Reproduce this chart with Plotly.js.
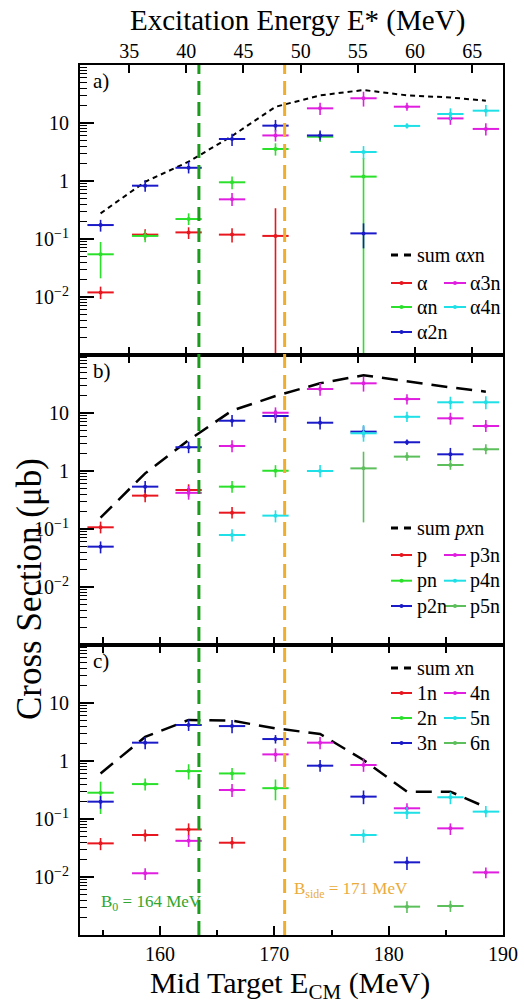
<!DOCTYPE html>
<html><head><meta charset="utf-8">
<script src="https://cdn.plot.ly/plotly-3.0.1.min.js"></script>
<style>html,body{margin:0;padding:0;background:#fff}#chart{width:524px;height:1008px}</style>
</head><body><div id="chart"></div>
<script>
// ---------------- data ----------------
const energies = [154.8, 158.7, 162.5, 166.3, 170.1, 174.0, 177.8, 181.6, 185.4, 188.5];
const energyHalfWidth = 1.15;
const excitationOffset = 122.3;            // E* = E_CM - offset
const topTickLabels = [35, 40, 45, 50, 55, 60, 65];
const barrierEnergies = [163.4, 170.9];
const barrierLabels = ['B<sub>0</sub> = 164 MeV', 'B<sub>side</sub> = 171 MeV'];

// panel a) alpha xn
const alphaNames = ['α', 'αn', 'α2n', 'α3n', 'α4n'];
const alpha0Y  = [0.012, 0.119, 0.130, 0.119, 0.113, null, null, null, null, null];
const alpha0Lo = [0.0092, 0.096, 0.100, 0.087, 1e-6, null, null, null, null, null];
const alpha0Hi = [0.0151, 0.147, 0.159, 0.153, 0.34, null, null, null, null, null];
const alpha1Y  = [0.0545, 0.113, 0.221, 0.95, 3.56, 5.8, 1.19, null, null, null];
const alpha1Lo = [0.021, 0.088, 0.174, 0.72, 2.74, 4.7, 1e-6, null, null, null];
const alpha1Hi = [0.089, 0.14, 0.277, 1.19, 4.47, 7.0, 2.5, null, null, null];
const alpha2Y  = [0.174, 0.83, 1.69, 5.3, 9.0, 6.1, 0.125, null, null, null];
const alpha2Lo = [0.134, 0.65, 1.35, 4.0, 7.1, 5.0, 0.069, null, null, null];
const alpha2Hi = [0.214, 1.04, 2.14, 6.5, 11.3, 7.4, 0.186, null, null, null];
const alpha3Y  = [null, null, null, 0.483, 6.1, 17.9, 26.7, 19.1, 12.0, 7.9];
const alpha3Lo = [null, null, null, 0.37, 4.8, 13.8, 19.2, 16.3, 9.3, 6.1];
const alpha3Hi = [null, null, null, 0.62, 7.6, 22.4, 34.6, 22.4, 15.0, 9.9];
const alpha4Y  = [null, null, null, null, null, null, 3.16, 8.9, 14.3, 16.3];
const alpha4Lo = [null, null, null, null, null, null, 2.37, 8.0, 11.3, 12.9];
const alpha4Hi = [null, null, null, null, null, null, 4.0, 9.9, 17.9, 20.4];
const sumAlpha = [0.277, 0.97, 2.15, 5.97, 19, 30, 37, 30, 27.5, 24.3];

// panel b) p xn
const protonNames = ['p', 'pn', 'p2n', 'p3n', 'p4n', 'p5n'];
const p0Y  = [0.107, 0.376, 0.47, 0.191, null, null, null, null, null, null];
const p0Lo = [0.084, 0.29, 0.36, 0.152, null, null, null, null, null, null];
const p0Hi = [0.134, 0.47, 0.59, 0.24, null, null, null, null, null, null];
const p1Y  = [null, null, null, 0.537, 1.01, null, null, null, null, null];
const p1Lo = [null, null, null, 0.42, 0.78, null, null, null, null, null];
const p1Hi = [null, null, null, 0.67, 1.26, null, null, null, null, null];
const p2Y  = [0.0496, 0.537, 2.57, 7.36, 8.87, 6.8, 4.77, 3.13, 1.94, null];
const p2Lo = [0.038, 0.42, 2.03, 5.8, 6.8, 5.2, 3.8, 2.8, 1.5, null];
const p2Hi = [0.061, 0.67, 3.2, 9.2, 11.3, 8.6, 5.9, 3.5, 2.5, null];
const p3Y  = [null, null, 0.42, 2.7, 10.1, 25.9, 32.5, 17.4, 8.1, 5.97];
const p3Lo = [null, null, 0.32, 2.1, 8.0, 19.9, 23.4, 14.0, 6.3, 4.7];
const p3Hi = [null, null, 0.55, 3.4, 12.5, 33, 42, 21, 10.1, 7.6];
const p4Y  = [null, null, null, 0.0788, 0.17, 1.0, 4.47, 8.6, 15.3, 15.3];
const p4Lo = [null, null, null, 0.061, 0.13, 0.78, 3.2, 7.0, 11.6, 11.6];
const p4Hi = [null, null, null, 0.099, 0.21, 1.27, 6.2, 10.5, 19.1, 19.5];
const p5Y  = [null, null, null, null, null, null, 1.11, 1.77, 1.27, 2.37];
const p5Lo = [null, null, null, null, null, null, 0.13, 1.5, 1.05, 1.95];
const p5Hi = [null, null, null, null, null, null, 2.15, 2.1, 1.55, 2.9];
const sumProton = [0.157, 0.91, 3.4, 11, 19.6, 32.5, 44.7, 34.7, 27.7, 23.3];

// panel c) xn
const neutronNames = ['1n', '2n', '3n', '4n', '5n', '6n'];
const n1Y  = [0.038, 0.053, 0.066, 0.039, null, null, null, null, null, null];
const n1Lo = [0.029, 0.041, 0.050, 0.031, null, null, null, null, null, null];
const n1Hi = [0.047, 0.066, 0.084, 0.049, null, null, null, null, null, null];
const n2Y  = [0.284, 0.40, 0.67, 0.61, 0.34, null, null, null, null, null];
const n2Lo = [0.122, 0.31, 0.48, 0.47, 0.21, null, null, null, null, null];
const n2Hi = [0.44, 0.50, 0.88, 0.76, 0.48, null, null, null, null, null];
const n3Y  = [0.199, 2.07, 4.18, 4.0, 2.39, 0.83, 0.243, 0.0179, null, null];
const n3Lo = [0.15, 1.6, 3.3, 3.0, 2.0, 0.65, 0.18, 0.0132, null, null];
const n3Hi = [0.25, 2.6, 5.2, 5.1, 2.8, 1.04, 0.31, 0.0224, null, null];
const n4Y  = [null, 0.0116, 0.042, 0.316, 1.30, 2.07, 0.853, 0.153, 0.069, 0.012];
const n4Lo = [null, 0.0089, 0.033, 0.24, 0.97, 1.6, 0.65, 0.126, 0.053, 0.0095];
const n4Hi = [null, 0.0142, 0.053, 0.40, 1.65, 2.6, 1.11, 0.186, 0.084, 0.0146];
const n5Y  = [null, null, null, null, null, null, 0.053, 0.128, 0.237, 0.134];
const n5Lo = [null, null, null, null, null, null, 0.039, 0.10, 0.18, 0.107];
const n5Hi = [null, null, null, null, null, null, 0.066, 0.16, 0.29, 0.168];
const n6Y  = [null, null, null, null, null, null, null, 0.00308, 0.00316, null];
const n6Lo = [null, null, null, null, null, null, null, 0.0024, 0.0025, null];
const n6Hi = [null, null, null, null, null, null, null, 0.0038, 0.0039, null];
const sumNeutron = [0.61, 2.6, 5.1, 4.95, 3.66, 2.92, 1.04, 0.296, 0.296, 0.16];

const sumNames = ['sum α<i>x</i>n', 'sum <i>px</i>n', 'sum <i>x</i>n'];
const panelTags = ['a)', 'b)', 'c)'];

// ---------------- styling ----------------
const FONT = 'Liberation Serif';
const COLORS = ['#e8161e', '#2be02b', '#1a1ac8', '#e01ee0', '#1fe0e6', '#5cbf5c'];
const BARRIER_COLORS = ['#1c9c1c', '#efae30'];
const BARRIER_TEXT = ['#2fa62f', '#e9ab3c'];
const W = 524, H = 1008, ML = 80, MR = 21, MT = 65, MB = 73;
const PW = W - ML - MR, PH = H - MT - MB;
const px2x = p => (p - ML) / PW;
const py2y = p => (H - MB - p) / PH;

const panels = [
  {names: alphaNames, ys: [alpha0Y, alpha1Y, alpha2Y, alpha3Y, alpha4Y],
   los: [alpha0Lo, alpha1Lo, alpha2Lo, alpha3Lo, alpha4Lo],
   his: [alpha0Hi, alpha1Hi, alpha2Hi, alpha3Hi, alpha4Hi],
   sum: sumAlpha, dash: '5px,4px', sumWidth: 2},
  {names: protonNames, ys: [p0Y, p1Y, p2Y, p3Y, p4Y, p5Y],
   los: [p0Lo, p1Lo, p2Lo, p3Lo, p4Lo, p5Lo],
   his: [p0Hi, p1Hi, p2Hi, p3Hi, p4Hi, p5Hi],
   sum: sumProton, dash: '16px,9px', sumWidth: 2.5},
  {names: neutronNames, ys: [n1Y, n2Y, n3Y, n4Y, n5Y, n6Y],
   los: [n1Lo, n2Lo, n3Lo, n4Lo, n5Lo, n6Lo],
   his: [n1Hi, n2Hi, n3Hi, n4Hi, n5Hi, n6Hi],
   sum: sumNeutron, dash: '16px,9px', sumWidth: 2.5}
];
// legend row layout (pixel rows of each panel's legend, relative to panel top)
const legendRowsRel = [[190, 218, 242, 267], [173, 200, 225.7, 251], [23, 48, 73, 98]];

const traces = [];
const shapes = [];
const annotations = [];
const panelTop = i => MT + i * PH / 3;
const txt = (size, color) => ({family: FONT, size: size, color: color || '#000'});

panels.forEach((pn, i) => {
  const xa = i === 0 ? 'x' : 'x' + (i + 1);
  const ya = i === 0 ? 'y' : 'y' + (i + 1);
  traces.push({
    x: energies, y: pn.sum, xaxis: xa, yaxis: ya, mode: 'lines', type: 'scatter',
    line: {color: '#000', width: pn.sumWidth, dash: pn.dash}, showlegend: false, hoverinfo: 'skip'
  });
  pn.ys.forEach((ys, k) => {
    const plus = ys.map((v, j) => v == null ? null : pn.his[k][j] - v);
    const minus = ys.map((v, j) => v == null ? null : v - pn.los[k][j]);
    traces.push({
      x: energies, y: ys, xaxis: xa, yaxis: ya, mode: 'markers', type: 'scatter', name: pn.names[k],
      marker: {color: COLORS[k], size: 4},
      error_x: {type: 'constant', value: energyHalfWidth, color: COLORS[k], thickness: 2, width: 0},
      error_y: {type: 'data', symmetric: false, array: plus, arrayminus: minus, color: COLORS[k], thickness: 1.6, width: 0},
      showlegend: false
    });
  });
  annotations.push({xref: 'paper', yref: 'paper', x: px2x(91), y: py2y(panelTop(i) + 16),
    xanchor: 'left', yanchor: 'middle', text: panelTags[i], showarrow: false, font: txt(21)});
  const rows = legendRowsRel[i].map(r => panelTop(i) + r);
  const colLine = [[391, 412], [444, 466]];
  const colText = [415, 468];
  shapes.push({type: 'line', xref: 'paper', yref: 'paper', x0: px2x(391), x1: px2x(412),
    y0: py2y(rows[0]), y1: py2y(rows[0]), line: {color: '#000', width: 3, dash: '7px,6px'}});
  annotations.push({xref: 'paper', yref: 'paper', x: px2x(colText[0]), y: py2y(rows[0]),
    xanchor: 'left', yanchor: 'middle', text: sumNames[i], showarrow: false, font: txt(20)});
  pn.names.forEach((nm, k) => {
    const col = Math.floor(k / 3), row = k % 3 + 1;
    const yy = py2y(rows[row]);
    shapes.push({type: 'line', xref: 'paper', yref: 'paper', x0: px2x(colLine[col][0]), x1: px2x(colLine[col][1]),
      y0: yy, y1: yy, line: {color: COLORS[k], width: 2}});
    shapes.push({type: 'circle', xref: 'paper', yref: 'paper', xsizemode: 'pixel', ysizemode: 'pixel',
      xanchor: px2x((colLine[col][0] + colLine[col][1]) / 2), yanchor: yy,
      x0: -2, x1: 2, y0: -2, y1: 2, fillcolor: COLORS[k], line: {color: COLORS[k], width: 0}});
    annotations.push({xref: 'paper', yref: 'paper', x: px2x(colText[col]), y: yy,
      xanchor: 'left', yanchor: 'middle', text: nm, showarrow: false, font: txt(20)});
  });
});

barrierEnergies.forEach((e, i) => {
  shapes.push({type: 'line', xref: 'x3', yref: 'paper', x0: e, x1: e, y0: 0, y1: 1,
    line: {color: BARRIER_COLORS[i], width: 3, dash: '14px,7px'}});
});
annotations.push({xref: 'paper', yref: 'paper', x: px2x(99), y: py2y(903), xanchor: 'left', yanchor: 'middle',
  text: barrierLabels[0], showarrow: false, font: txt(17, BARRIER_TEXT[0])});
annotations.push({xref: 'paper', yref: 'paper', x: px2x(292), y: py2y(890), xanchor: 'left', yanchor: 'middle',
  text: barrierLabels[1], showarrow: false, font: txt(17, BARRIER_TEXT[1])});

annotations.push({xref: 'paper', yref: 'paper', x: px2x(297), y: py2y(21), xanchor: 'center', yanchor: 'middle',
  text: 'Excitation Energy E* (MeV)', showarrow: false, font: txt(29)});
annotations.push({xref: 'paper', yref: 'paper', x: px2x(290), y: py2y(985), xanchor: 'center', yanchor: 'middle',
  text: 'Mid Target E<sub>CM</sub> (MeV)', showarrow: false, font: txt(30)});
annotations.push({xref: 'paper', yref: 'paper', x: px2x(29), y: py2y(589), xanchor: 'center', yanchor: 'middle',
  textangle: -90, text: 'Cross Section (μb)', showarrow: false, font: txt(35)});

const minorVals = [];
for (let d = -3; d <= 1; d++) for (let k = 2; k <= 9; k++) minorVals.push(k * Math.pow(10, d));
const xRange = [153, 190];
const eRange = xRange.map(v => v - excitationOffset);
const ecmTicks = [155, 160, 165, 170, 175, 180, 185];

function yAxis(domain) {
  return {type: 'log', range: [-3, 2], domain: domain,
    tickvals: [0.01, 0.1, 1, 10], ticktext: ['10<sup>−2</sup>', '10<sup>−1</sup>', '1', '10'],
    ticks: 'inside', ticklen: 14, tickwidth: 1.5, tickcolor: '#000',
    minor: {tickvals: minorVals, ticks: 'inside', ticklen: 7, tickwidth: 1.2, tickcolor: '#000'},
    showline: true, linewidth: 2, linecolor: '#000', mirror: true,
    showgrid: false, zeroline: false, tickfont: txt(20), ticklabelstandoff: 5};
}
function xAxis(anchor, extra) {
  return Object.assign({range: xRange, anchor: anchor, domain: [0, 1], ticks: 'inside', ticklen: 8,
    tickwidth: 1.5, tickcolor: '#000', showline: true, linewidth: 2, linecolor: '#000',
    showgrid: false, zeroline: false, showticklabels: false, tickfont: txt(20)}, extra);
}

const layout = {
  width: W, height: H, margin: {l: ML, r: MR, t: MT, b: MB},
  paper_bgcolor: '#fff', plot_bgcolor: '#fff', showlegend: false,
  yaxis: yAxis([2 / 3, 1]), yaxis2: yAxis([1 / 3, 2 / 3]), yaxis3: yAxis([0, 1 / 3]),
  xaxis: xAxis('y', {tickvals: topTickLabels.map(v => v + excitationOffset), mirror: 'ticks'}),
  xaxis2: xAxis('y2', {tickvals: ecmTicks}),
  xaxis3: xAxis('y3', {tickvals: [160, 170, 180, 190], ticklen: 9, showticklabels: true,
    minor: {tickvals: [155, 165, 175, 185], ticks: 'inside', ticklen: 5, tickwidth: 1.5, tickcolor: '#000'}}),
  xaxis4: xAxis('y', {overlaying: 'x', side: 'top', range: eRange, tickvals: topTickLabels, ticks: '',
    showline: false, showticklabels: true, ticklabelstandoff: 2}),
  xaxis5: xAxis('y2', {overlaying: 'x2', side: 'top', range: eRange, tickvals: topTickLabels}),
  xaxis6: xAxis('y3', {overlaying: 'x3', side: 'top', tickvals: ecmTicks}),
  shapes: shapes, annotations: annotations
};
traces.push({x: [], y: [], xaxis: 'x4', yaxis: 'y', type: 'scatter', mode: 'markers', showlegend: false, hoverinfo: 'skip'});
traces.push({x: [], y: [], xaxis: 'x5', yaxis: 'y2', type: 'scatter', mode: 'markers', showlegend: false, hoverinfo: 'skip'});
traces.push({x: [], y: [], xaxis: 'x6', yaxis: 'y3', type: 'scatter', mode: 'markers', showlegend: false, hoverinfo: 'skip'});

Plotly.newPlot('chart', traces, layout, {displayModeBar: false});
</script></body></html>
